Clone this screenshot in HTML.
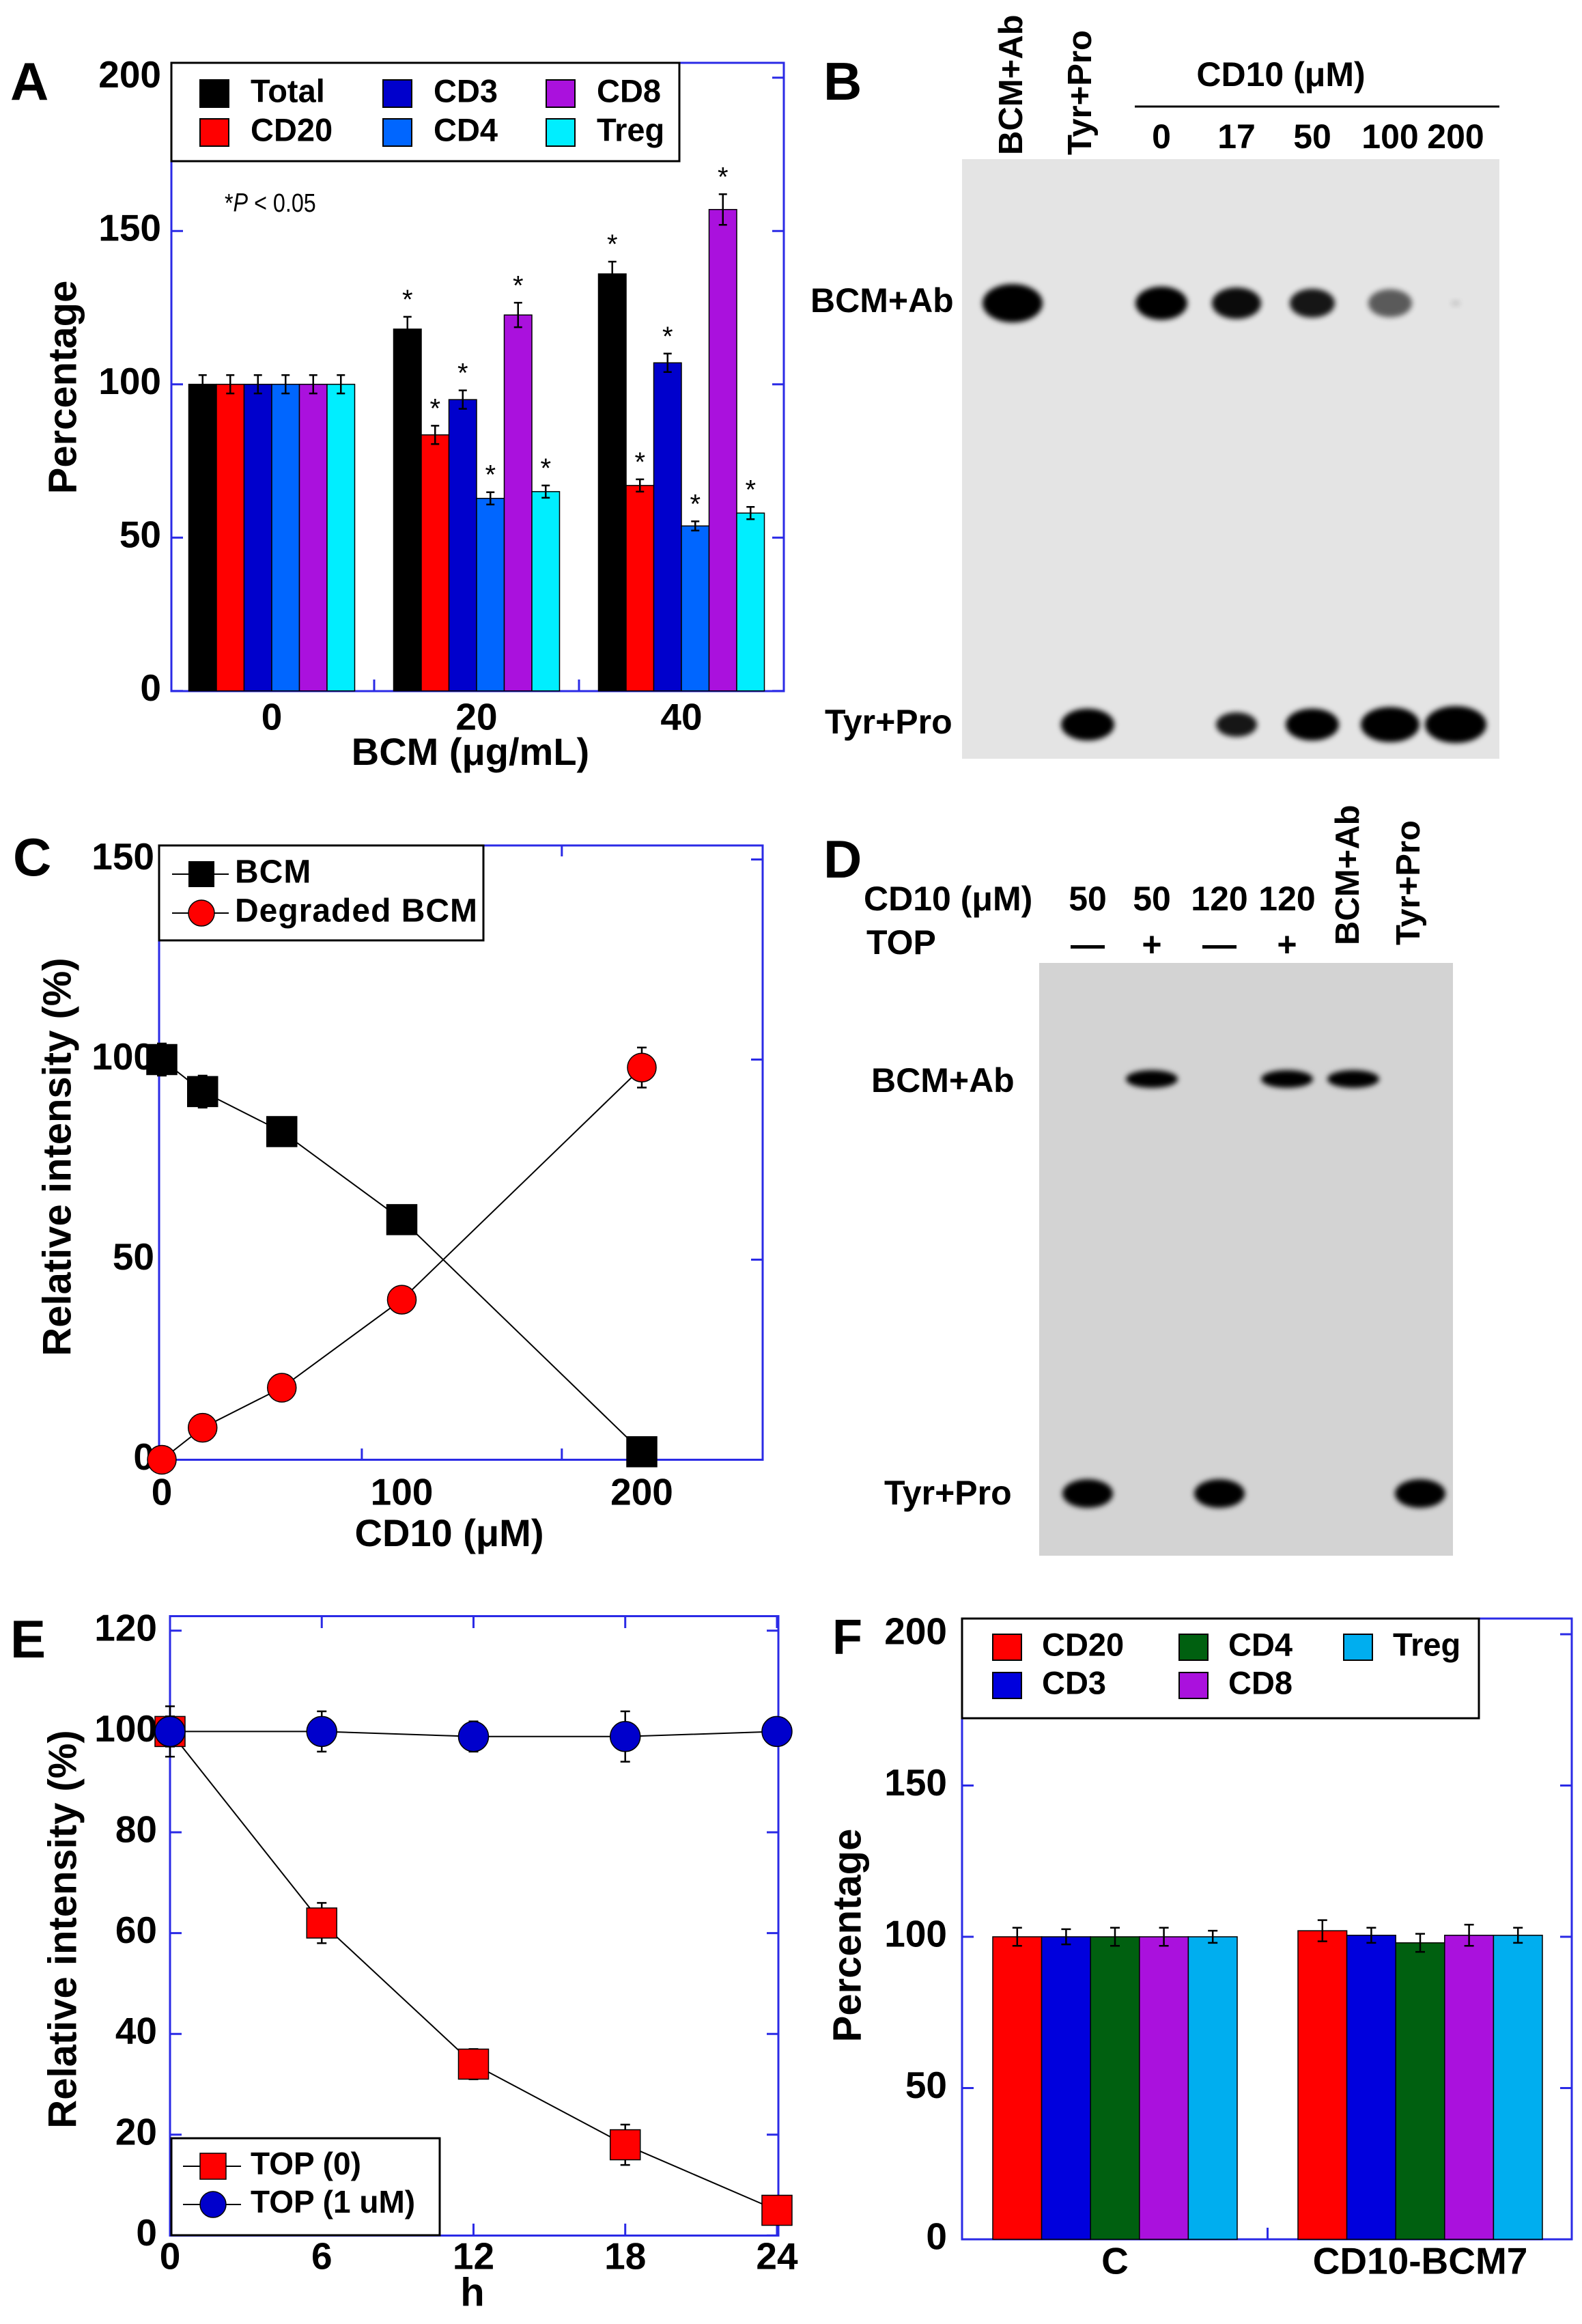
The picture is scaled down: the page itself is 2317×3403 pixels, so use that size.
<!DOCTYPE html>
<html><head><meta charset="utf-8">
<style>
html,body{margin:0;padding:0;background:#fff;}
svg{display:block;font-family:"Liberation Sans",Arial,sans-serif;font-weight:bold;}
</style></head>
<body>
<svg id="fig" xmlns="http://www.w3.org/2000/svg" width="2317" height="3403" viewBox="0 0 2317 3403">
<defs>
<filter id="blur" x="-50%" y="-50%" width="200%" height="200%"><feGaussianBlur stdDeviation="4"/></filter>
</defs>
<rect x="0" y="0" width="2317" height="3403" fill="#fff"/>

<!-- Panel A -->
<g id="panelA">
<text x="15" y="146" font-size="78">A</text>
<rect x="251" y="92" width="897" height="920" fill="none" stroke="#2a2ae6" stroke-width="3"/>
<text x="96" y="567" font-size="58" text-anchor="middle" dominant-baseline="middle" transform="rotate(-90 96 567)">Percentage</text>
<text x="689" y="1105" font-size="56" text-anchor="middle" dominant-baseline="middle">BCM (μg/mL)</text>
<text x="329" y="300" font-size="38" font-weight="normal" dominant-baseline="middle" transform="translate(329 0) scale(0.85 1) translate(-329 0)">*<tspan font-style="italic">P</tspan> &lt; 0.05</text>
<g id="A-marks"></g>
<rect x="251" y="92" width="744" height="144" fill="#fff" stroke="#000" stroke-width="3"/>
<g id="A-legend"></g>
</g>

<!-- Panel B -->
<g id="panelB">
<text x="1206" y="146" font-size="78">B</text>
<text x="1876" y="113" font-size="50" text-anchor="middle" dominant-baseline="middle">CD10 (μM)</text>
<line x1="1662" y1="156" x2="2196" y2="156" stroke="#000" stroke-width="3"/>
<rect x="1409" y="233" width="787" height="878" fill="#e4e4e4"/>
<text x="1187" y="444" font-size="50" dominant-baseline="middle">BCM+Ab</text>
<text x="1208" y="1061" font-size="50" dominant-baseline="middle">Tyr+Pro</text>
<g id="B-marks"></g>
</g>

<!-- Panel C -->
<g id="panelC">
<text x="19" y="1282" font-size="78">C</text>
<rect x="233" y="1238" width="884" height="899.5" fill="none" stroke="#2a2ae6" stroke-width="3"/>
<text x="88" y="1694" font-size="58" text-anchor="middle" dominant-baseline="middle" transform="rotate(-90 88 1694)">Relative intensity (%)</text>
<text x="658" y="2249" font-size="56" text-anchor="middle" dominant-baseline="middle">CD10 (μM)</text>
<g id="C-marks"></g>
<rect x="233" y="1238" width="475" height="139" fill="#fff" stroke="#000" stroke-width="3"/>
<g id="C-legend"></g>
</g>

<!-- Panel D -->
<g id="panelD">
<text x="1206" y="1285" font-size="78">D</text>
<text x="1265" y="1320" font-size="50" dominant-baseline="middle">CD10 (μM)</text>
<text x="1269" y="1384" font-size="50" dominant-baseline="middle">TOP</text>
<rect x="1522" y="1410" width="606" height="868" fill="#d3d3d3"/>
<text x="1276" y="1586" font-size="50" dominant-baseline="middle">BCM+Ab</text>
<text x="1295" y="2190" font-size="50" dominant-baseline="middle">Tyr+Pro</text>
<g id="D-marks"></g>
</g>

<!-- Panel E -->
<g id="panelE">
<text x="15" y="2427" font-size="78">E</text>
<rect x="249" y="2366.5" width="891" height="907" fill="none" stroke="#2a2ae6" stroke-width="3"/>
<text x="96" y="2825" font-size="58" text-anchor="middle" dominant-baseline="middle" transform="rotate(-90 96 2825)">Relative intensity (%)</text>
<text x="692" y="3361" font-size="58" text-anchor="middle" dominant-baseline="middle">h</text>
<g id="E-marks"></g>
<rect x="251" y="3131" width="393" height="142" fill="#fff" stroke="#000" stroke-width="3"/>
<g id="E-legend"></g>
</g>

<!-- Panel F -->
<g id="panelF">
<text x="1219" y="2422" font-size="72">F</text>
<rect x="1409" y="2370" width="893" height="909" fill="none" stroke="#2a2ae6" stroke-width="3"/>
<text x="1245" y="2834" font-size="58" text-anchor="middle" dominant-baseline="middle" transform="rotate(-90 1245 2834)">Percentage</text>
<g id="F-marks"></g>
<rect x="1409" y="2370" width="757" height="146" fill="#fff" stroke="#000" stroke-width="3"/>
<g id="F-legend"></g>
</g>
</svg>

<script>
// ---------- Panel A data ----------
const aCategories = ["0", "20", "40"];
const aSeries = ["Total", "CD20", "CD3", "CD4", "CD8", "Treg"];
const aTotal = [100, 118, 136];
const aCD20 = [100, 83.5, 67];
const aCD3 = [100, 95, 107];
const aCD4 = [100, 62.8, 53.8];
const aCD8 = [100, 122.6, 157];
const aTreg = [100, 65, 58];
const aTotalErr = [3, 4, 4];
const aCD20Err = [3, 3, 2];
const aCD3Err = [3, 3, 3];
const aCD4Err = [3, 2, 1.5];
const aCD8Err = [3, 4, 5];
const aTregErr = [3, 2, 2];
const aSig = [false, true, true];
const aYTicks = [0, 50, 100, 150, 200];

// ---------- Panel B data ----------
const bLanes = ["BCM+Ab", "Tyr+Pro", "0", "17", "50", "100", "200"];
const bTopIntensity = [1, 0, 1, 0.95, 0.9, 0.6, 0.12];
const bTopSize = [88, 0, 76, 72, 66, 64, 14];
const bBottomIntensity = [0, 1, 0, 0.9, 1, 1, 1];
const bBottomSize = [0, 78, 0, 60, 78, 86, 90];

// ---------- Panel C data ----------
const cDose = [0, 17, 50, 100, 200];
const cBCM = [100, 92, 82, 60, 2];
const cBCMErr = [4, 4, 3, 0, 0];
const cDegraded = [0, 8, 18, 40, 98];
const cDegradedErr = [0, 0, 0, 0, 5];
const cXTicks = [0, 100, 200];
const cYTicks = [0, 50, 100, 150];

// ---------- Panel D data ----------
const dCD10 = ["50", "50", "120", "120"];
const dTOP = ["—", "+", "—", "+"];
const dTopIntensity = [0, 1, 0, 1, 1, 0];
const dBottomIntensity = [1, 0, 1, 0, 0, 1];

// ---------- Panel E data ----------
const eHours = [0, 6, 12, 18, 24];
const eTop0 = [100, 62, 34, 18, 5];
const eTop0Err = [3, 4, 3, 4, 1];
const eTop1 = [100, 100, 99, 99, 100];
const eTop1Err = [5, 4, 3, 5, 1];
const eYTicks = [0, 20, 40, 60, 80, 100, 120];

// ---------- Panel F data ----------
const fCategories = ["C", "CD10-BCM7"];
const fSeries = ["CD20", "CD3", "CD4", "CD8", "Treg"];
const fCD20 = [100, 102];
const fCD3 = [100, 100.5];
const fCD4 = [100, 98];
const fCD8 = [100, 100.5];
const fTreg = [100, 100.5];
const fCD20Err = [3, 3.5];
const fCD3Err = [2.5, 2.5];
const fCD4Err = [3, 3];
const fCD8Err = [3, 3.5];
const fTregErr = [2, 2.5];
const fYTicks = [0, 50, 100, 150, 200];

const NS = "http://www.w3.org/2000/svg";
const BLUE = "#2a2ae6";
function mk(tag, attrs, parent) {
  const el = document.createElementNS(NS, tag);
  for (const k in attrs) el.setAttribute(k, attrs[k]);
  parent.appendChild(el);
  return el;
}

// ================= Panel A =================
(function () {
  const g = document.getElementById("A-marks");
  const yA = v => 1011.7 - v * 4.49;
  const xA = i => 398 + 300 * i;
  const bw = 40.5;
  const vals = [aTotal, aCD20, aCD3, aCD4, aCD8, aTreg];
  const errs = [aTotalErr, aCD20Err, aCD3Err, aCD4Err, aCD8Err, aTregErr];
  const cols = ["#000000", "#ff0000", "#0000cc", "#0066ff", "#aa11dd", "#00eeff"];
  aYTicks.forEach(t => {
    let el = mk("text", {x: 236, y: yA(t), "font-size": 55, "text-anchor": "end", "dominant-baseline": "middle"}, g);
    el.textContent = t;
    
    
    el = mk("line", {x1: 251, y1: yA(t), x2: 268, y2: yA(t), stroke: BLUE, "stroke-width": 3}, g);
    
    
    el = mk("line", {x1: 1131, y1: yA(t), x2: 1148, y2: yA(t), stroke: BLUE, "stroke-width": 3}, g);
    
    
  });
  aCategories.forEach((c, i) => {
    let el = mk("text", {x: xA(i), y: 1054, "font-size": 55, "text-anchor": "middle", "dominant-baseline": "middle"}, g);
    el.textContent = c;
    
    
    if (i > 0) {
      const bx = (xA(i) + xA(i - 1)) / 2;
      el = mk("line", {x1: bx, y1: 1012, x2: bx, y2: 995, stroke: BLUE, "stroke-width": 3}, g);
      
      
    }
    vals.forEach((arr, s) => {
      const x0 = xA(i) - 3 * bw + s * bw;
      const v = arr[i], e = errs[s][i];
      let b = mk("rect", {x: x0, y: yA(v), width: bw, height: yA(0) - yA(v), fill: cols[s], stroke: "#000", "stroke-width": 1.5}, g);
      
      
      const cx = x0 + bw / 2;
      let eb = mk("path", {d: `M${cx} ${yA(v + e)}V${yA(v - e)}M${cx - 6} ${yA(v + e)}H${cx + 6}M${cx - 6} ${yA(v - e)}H${cx + 6}`, stroke: "#000", "stroke-width": 2.5, fill: "none"}, g);
      
      
      if (aSig[i]) {
        let st = mk("text", {x: cx, y: yA(v + e) - 12, "font-size": 40, "font-weight": "normal", "text-anchor": "middle"}, g);
        st.textContent = "*";
        
        
      }
    });
  });
  const lg = document.getElementById("A-legend");
  const lx = [293, 561, 800], ly = [137, 194];
  aSeries.forEach((s, k) => {
    const col = Math.floor(k / 2), row = k % 2;
    let r = mk("rect", {x: lx[col], y: ly[row] - 20, width: 42, height: 40, fill: cols[k], stroke: "#000", "stroke-width": 2}, lg);
    
    
    let t = mk("text", {x: lx[col] + 74, y: ly[row], "font-size": 47, "dominant-baseline": "middle"}, lg);
    t.textContent = s;
    
    
  });
})();

// ================= Panel B =================
(function () {
  const g = document.getElementById("B-marks");
  const xB = i => [1483, 1593, 1701, 1811, 1922, 2036, 2132][i];
  bLanes.forEach((l, i) => {
    let t;
    if (i < 2) {
      const tx = i === 0 ? 1497 : 1598;
      t = mk("text", {x: tx, y: 227, "font-size": 49, transform: `rotate(-90 ${tx} 227)`}, g);
    } else {
      t = mk("text", {x: xB(i), y: 204, "font-size": 50, "text-anchor": "middle", "dominant-baseline": "middle"}, g);
    }
    t.textContent = l;
    
    
    if (bTopIntensity[i] > 0) {
      const w = bTopSize[i];
      let e = mk("ellipse", {cx: xB(i), cy: 444, rx: w / 2, ry: w * 0.32, fill: "#000", opacity: bTopIntensity[i], filter: "url(#blur)"}, g);
      
      
    }
    if (bBottomIntensity[i] > 0) {
      const w = bBottomSize[i];
      let e = mk("ellipse", {cx: xB(i), cy: 1061, rx: w / 2, ry: w * 0.3, fill: "#000", opacity: bBottomIntensity[i], filter: "url(#blur)"}, g);
      
      
    }
  });
})();

// ================= Panel C =================
(function () {
  const g = document.getElementById("C-marks");
  const xC = v => 237 + v * 3.515;
  const yC = v => 2137.5 - v * 5.86;
  cYTicks.forEach(t => {
    let el = mk("text", {x: 226, y: yC(t), "font-size": 55, "text-anchor": "end", "dominant-baseline": "middle"}, g);
    el.textContent = t;
    
    
    el = mk("line", {x1: 1100, y1: yC(t), x2: 1117, y2: yC(t), stroke: BLUE, "stroke-width": 3}, g);
    
    
  });
  cXTicks.forEach(t => {
    let el = mk("text", {x: xC(t), y: 2189, "font-size": 55, "text-anchor": "middle", "dominant-baseline": "middle"}, g);
    el.textContent = t;
    
    
  });
  [250 / 3, 500 / 3].forEach(t => {
    let el = mk("line", {x1: xC(t), y1: 2137.5, x2: xC(t), y2: 2121, stroke: BLUE, "stroke-width": 3}, g);
    
    
    el = mk("line", {x1: xC(t), y1: 1238, x2: xC(t), y2: 1254, stroke: BLUE, "stroke-width": 3}, g);
    
    
  });
  const series = [[cBCM, cBCMErr, "square", "#000", "bcm"], [cDegraded, cDegradedErr, "circle", "#ff0000", "degraded-bcm"]];
  series.forEach(([vals, errs, shape, col, nm]) => {
    let p = mk("polyline", {points: cDose.map((d, i) => xC(d) + "," + yC(vals[i])).join(" "), fill: "none", stroke: "#000", "stroke-width": 2}, g);
    
    
    cDose.forEach((d, i) => {
      const cx = xC(d), cy = yC(vals[i]), e = errs[i];
      if (e > 0) {
        let eb = mk("path", {d: `M${cx} ${yC(vals[i] + e)}V${yC(vals[i] - e)}M${cx - 7} ${yC(vals[i] + e)}H${cx + 7}M${cx - 7} ${yC(vals[i] - e)}H${cx + 7}`, stroke: "#000", "stroke-width": 2.5, fill: "none"}, g);
        
        
      }
      let m;
      if (shape === "square") m = mk("rect", {x: cx - 22, y: cy - 22, width: 44, height: 44, fill: col, stroke: "#000", "stroke-width": 1.5}, g);
      else m = mk("circle", {cx: cx, cy: cy, r: 21, fill: col, stroke: "#000", "stroke-width": 1.5}, g);
      
      
    });
  });
  const lg = document.getElementById("C-legend");
  const rows = [[1280, "square", "#000", "BCM"], [1337, "circle", "#ff0000", "Degraded BCM"]];
  rows.forEach(([y, shape, col, label]) => {
    let l = mk("line", {x1: 252, y1: y, x2: 335, y2: y, stroke: "#000", "stroke-width": 2}, lg);
    
    
    let m;
    if (shape === "square") m = mk("rect", {x: 276, y: y - 19, width: 38, height: 38, fill: col}, lg);
    else m = mk("circle", {cx: 295, cy: y, r: 19, fill: col, stroke: "#000", "stroke-width": 1.5}, lg);
    
    
    let t = mk("text", {x: 344, y: y, "font-size": 48, "dominant-baseline": "middle", "letter-spacing": 1}, lg);
    t.textContent = label;
    
    
  });
})();

// ================= Panel D =================
(function () {
  const g = document.getElementById("D-marks");
  const xD = i => [1593, 1687, 1786, 1885, 1982, 2080][i];
  dCD10.forEach((v, i) => {
    let t = mk("text", {x: xD(i), y: 1320, "font-size": 50, "text-anchor": "middle", "dominant-baseline": "middle"}, g);
    t.textContent = v;
    
    
    t = mk("text", {x: xD(i), y: 1387, "font-size": 50, "text-anchor": "middle", "dominant-baseline": "middle"}, g);
    t.textContent = dTOP[i];
    
    
  });
  ["BCM+Ab", "Tyr+Pro"].forEach((l, k) => {
    const tx = k === 0 ? 1990 : 2079;
    let t = mk("text", {x: tx, y: 1384, "font-size": 49, transform: `rotate(-90 ${tx} 1384)`}, g);
    t.textContent = l;
    
    
  });
  dTopIntensity.forEach((v, i) => {
    if (v > 0) {
      let e = mk("ellipse", {cx: xD(i), cy: 1580, rx: 38, ry: 13, fill: "#000", opacity: v, filter: "url(#blur)"}, g);
      
      
    }
  });
  dBottomIntensity.forEach((v, i) => {
    if (v > 0) {
      let e = mk("ellipse", {cx: xD(i), cy: 2187, rx: 37, ry: 21, fill: "#000", opacity: v, filter: "url(#blur)"}, g);
      
      
    }
  });
})();

// ================= Panel E =================
(function () {
  const g = document.getElementById("E-marks");
  const xE = h => 249 + h * 37.04;
  const yE = v => 3273.4 - v * 7.38;
  eYTicks.forEach(t => {
    let el = mk("text", {x: 230, y: yE(t), "font-size": 55, "text-anchor": "end", "dominant-baseline": "middle"}, g);
    el.textContent = t;
    
    
    el = mk("line", {x1: 249, y1: yE(t), x2: 266, y2: yE(t), stroke: BLUE, "stroke-width": 3}, g);
    
    
    el = mk("line", {x1: 1123, y1: yE(t), x2: 1140, y2: yE(t), stroke: BLUE, "stroke-width": 3}, g);
    
    
  });
  eHours.forEach(h => {
    let el = mk("text", {x: xE(h), y: 3308, "font-size": 55, "text-anchor": "middle", "dominant-baseline": "middle"}, g);
    el.textContent = h;
    
    
    el = mk("line", {x1: xE(h), y1: 3273, x2: xE(h), y2: 3256, stroke: BLUE, "stroke-width": 3}, g);
    
    
    el = mk("line", {x1: xE(h), y1: 2367, x2: xE(h), y2: 2384, stroke: BLUE, "stroke-width": 3}, g);
    
    
  });
  const series = [[eTop0, eTop0Err, "square", "#ff0000", "top-0"], [eTop1, eTop1Err, "circle", "#0000cc", "top-1um"]];
  series.forEach(([vals, errs, shape, col, nm]) => {
    let p = mk("polyline", {points: eHours.map((h, i) => xE(h) + "," + yE(vals[i])).join(" "), fill: "none", stroke: "#000", "stroke-width": 2}, g);
    
    
    eHours.forEach((h, i) => {
      const cx = xE(h), v = vals[i], e = errs[i];
      let eb = mk("path", {d: `M${cx} ${yE(v + e)}V${yE(v - e)}M${cx - 7} ${yE(v + e)}H${cx + 7}M${cx - 7} ${yE(v - e)}H${cx + 7}`, stroke: "#000", "stroke-width": 2.5, fill: "none"}, g);
      
      
      let m;
      if (shape === "square") m = mk("rect", {x: cx - 22, y: yE(v) - 22, width: 44, height: 44, fill: col, stroke: "#000", "stroke-width": 1.5}, g);
      else m = mk("circle", {cx: cx, cy: yE(v), r: 22, fill: col, stroke: "#000", "stroke-width": 1.5}, g);
      
      
    });
  });
  const lg = document.getElementById("E-legend");
  const rows = [[3172, "square", "#ff0000", "TOP (0)"], [3228, "circle", "#0000cc", "TOP (1 uM)"]];
  rows.forEach(([y, shape, col, label]) => {
    let l = mk("line", {x1: 268, y1: y, x2: 353, y2: y, stroke: "#000", "stroke-width": 2}, lg);
    
    
    let m;
    if (shape === "square") m = mk("rect", {x: 293, y: y - 19, width: 38, height: 38, fill: col, stroke: "#000", "stroke-width": 1.5}, lg);
    else m = mk("circle", {cx: 312, cy: y, r: 19, fill: col, stroke: "#000", "stroke-width": 1.5}, lg);
    
    
    let t = mk("text", {x: 367, y: y, "font-size": 46, "dominant-baseline": "middle"}, lg);
    t.textContent = label;
    
    
  });
})();

// ================= Panel F =================
(function () {
  const g = document.getElementById("F-marks");
  const yF = v => 3279 - v * 4.43;
  const xF = i => 1633 + 447 * i;
  const bw = 71.6;
  const vals = [fCD20, fCD3, fCD4, fCD8, fTreg];
  const errs = [fCD20Err, fCD3Err, fCD4Err, fCD8Err, fTregErr];
  const cols = ["#ff0000", "#0000dd", "#006010", "#aa11dd", "#00aeef"];
  fYTicks.forEach(t => {
    let el = mk("text", {x: 1387, y: yF(t), "font-size": 55, "text-anchor": "end", "dominant-baseline": "middle"}, g);
    el.textContent = t;
    
    
    el = mk("line", {x1: 1409, y1: yF(t), x2: 1426, y2: yF(t), stroke: BLUE, "stroke-width": 3}, g);
    
    
    el = mk("line", {x1: 2285, y1: yF(t), x2: 2302, y2: yF(t), stroke: BLUE, "stroke-width": 3}, g);
    
    
  });
  let mt = mk("line", {x1: (xF(0) + xF(1)) / 2, y1: 3279, x2: (xF(0) + xF(1)) / 2, y2: 3262, stroke: BLUE, "stroke-width": 3}, g);
  
  
  fCategories.forEach((c, i) => {
    let el = mk("text", {x: xF(i), y: 3315, "font-size": 55, "text-anchor": "middle", "dominant-baseline": "middle"}, g);
    el.textContent = c;
    
    
    vals.forEach((arr, s) => {
      const x0 = xF(i) - 2.5 * bw + s * bw;
      const v = arr[i], e = errs[s][i];
      let b = mk("rect", {x: x0, y: yF(v), width: bw, height: yF(0) - yF(v), fill: cols[s], stroke: "#000", "stroke-width": 1.5}, g);
      
      
      const cx = x0 + bw / 2;
      let eb = mk("path", {d: `M${cx} ${yF(v + e)}V${yF(v - e)}M${cx - 7} ${yF(v + e)}H${cx + 7}M${cx - 7} ${yF(v - e)}H${cx + 7}`, stroke: "#000", "stroke-width": 2.5, fill: "none"}, g);
      
      
    });
  });
  const lg = document.getElementById("F-legend");
  const lx = [1454, 1727, 1968], ly = [2412, 2468];
  fSeries.forEach((s, k) => {
    const col = Math.floor(k / 2), row = k % 2;
    let r = mk("rect", {x: lx[col], y: ly[row] - 19, width: 42, height: 38, fill: cols[k], stroke: "#000", "stroke-width": 2}, lg);
    
    
    let t = mk("text", {x: lx[col] + 72, y: ly[row], "font-size": 47, "dominant-baseline": "middle"}, lg);
    t.textContent = s;
    
    
  });
})();
</script>
</body></html>
